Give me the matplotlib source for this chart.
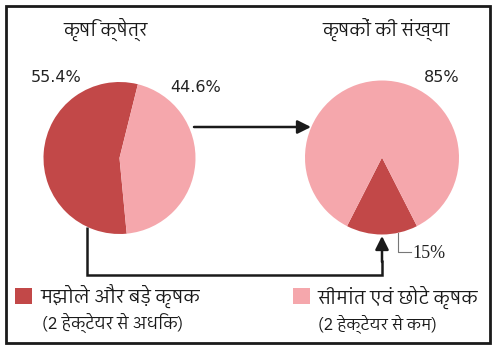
import matplotlib
matplotlib.use("Agg")
import matplotlib.pyplot as plt
from matplotlib.patches import Rectangle
from matplotlib import font_manager as fm
from matplotlib.ft2font import FT2Font

# ---- data ----
left_title = "कृषि क्षेत्र"
right_title = "कृषकों की संख्या"
area_values = [55.4, 44.6]          # medium & large, marginal & small
farmer_values = [15, 85]            # medium & large, marginal & small
area_labels = ["55.4%", "44.6%"]
farmer_labels = ["15%", "85%"]
legend_names = ["मझोले और बड़े कृषक", "सीमांत एवं छोटे कृषक"]
legend_notes = ["(2 हेक्टेयर से अधिक)", "(2 हेक्टेयर से कम)"]

DARK = "#C24848"
LIGHT = "#F5A7AC"
INK = "#1a1a1a"


def find_font(ch):
    cands = []
    for f in fm.fontManager.ttflist:
        try:
            ft = FT2Font(f.fname)
            cm = ft.get_charmap()
            if ord(ch) in cm:
                cands.append((f, cm))
        except Exception:
            pass
    if not cands:
        return None, {}

    def score(item):
        f = item[0]
        n = f.name.lower()
        s = 0
        if "mono" in n:
            s += 10
        if "devanagari" not in n:
            s += 1
        if f.weight not in (400, "normal", "regular"):
            s += 2
        if f.style != "normal":
            s += 3
        return s

    cands.sort(key=score)
    return cands[0][0].name, cands[0][1]


deva, deva_map = find_font("क")
fam = [deva, "DejaVu Sans"] if deva else ["DejaVu Sans"]
# use the precomposed DDDHA glyph when the font has it (no shaping engine)
if 0x095C in deva_map:
    legend_names = [s.replace("ड\u093c", "\u095c") for s in legend_names]

W, H = 495, 351
fig = plt.figure(figsize=(W / 100, H / 100), dpi=100)
ax = fig.add_axes([0, 0, 1, 1])


def Y(y):
    return H - y


# pies
ax.pie(area_values, colors=[DARK, LIGHT], startangle=76, counterclock=True,
       center=(119.5, Y(158)), radius=76, wedgeprops=dict(linewidth=0))
ax.pie(farmer_values, colors=[DARK, LIGHT], startangle=243, counterclock=True,
       center=(382, Y(157.5)), radius=77, wedgeprops=dict(linewidth=0))

ax.set_xlim(0, W)
ax.set_ylim(0, H)
ax.set_aspect("auto")
ax.axis("off")

# frame
ax.add_patch(Rectangle((5.5, Y(343)), 484, 337.5, fill=False, edgecolor=INK,
                       lw=2, zorder=5))

# arrows
arrow = dict(arrowstyle="-|>", lw=1.8, color=INK, mutation_scale=20,
             shrinkA=0, shrinkB=0)
ax.annotate("", xy=(311, Y(127)), xytext=(194, Y(127)), arrowprops=arrow)
ax.plot([87, 87, 382, 382], [Y(227), Y(275), Y(275), Y(260)], color=INK,
        lw=1.8, solid_joinstyle="miter", solid_capstyle="butt")
ax.annotate("", xy=(382, Y(236)), xytext=(382, Y(262)), arrowprops=arrow)

# leader for 15%
ax.plot([398, 398, 411], [Y(233), Y(252), Y(252)], color="#777777", lw=0.8)

renderer = fig.canvas.get_renderer()


def fit(txt, target):
    for _ in range(2):
        bb = txt.get_window_extent(renderer)
        if bb.width > 0:
            txt.set_fontsize(txt.get_fontsize() * target / bb.width)


# titles
t_right = ax.text(386, Y(29), right_title, ha="center", va="center",
                  fontsize=12, family=fam, color=INK)
fit(t_right, 128)
ax.text(106, Y(29), left_title, ha="center", va="center",
        fontsize=t_right.get_fontsize(), family=fam, color=INK)

# percentage labels
ax.text(56, Y(77), area_labels[0], ha="center", va="center", fontsize=11.5,
        family="DejaVu Sans", color="#222222")
ax.text(196, Y(87), area_labels[1], ha="center", va="center", fontsize=11.5,
        family="DejaVu Sans", color="#222222")
ax.text(442, Y(77), farmer_labels[1], ha="center", va="center", fontsize=11.5,
        family="DejaVu Sans", color="#222222")
ax.text(412, Y(253), farmer_labels[0], ha="left", va="center", fontsize=13,
        family=["Liberation Serif", "DejaVu Serif"], color="#222222")

# legend
ax.add_patch(Rectangle((15, Y(304)), 17, 16, facecolor=DARK, edgecolor="none"))
ax.add_patch(Rectangle((293, Y(304)), 17, 16, facecolor=LIGHT, edgecolor="none"))
t = ax.text(40, Y(297), legend_names[0], ha="left", va="center", fontsize=14,
            family=fam, color=INK)
fit(t, 160)
t = ax.text(317, Y(297), legend_names[1], ha="left", va="center", fontsize=14,
            family=fam, color=INK)
fit(t, 161)
t = ax.text(42, Y(324), legend_notes[0], ha="left", va="center", fontsize=11,
            family=fam, color=INK)
fit(t, 140)
t = ax.text(318, Y(324), legend_notes[1], ha="left", va="center", fontsize=11,
            family=fam, color=INK)
fit(t, 119)

fig.savefig("out.png", dpi=100)
